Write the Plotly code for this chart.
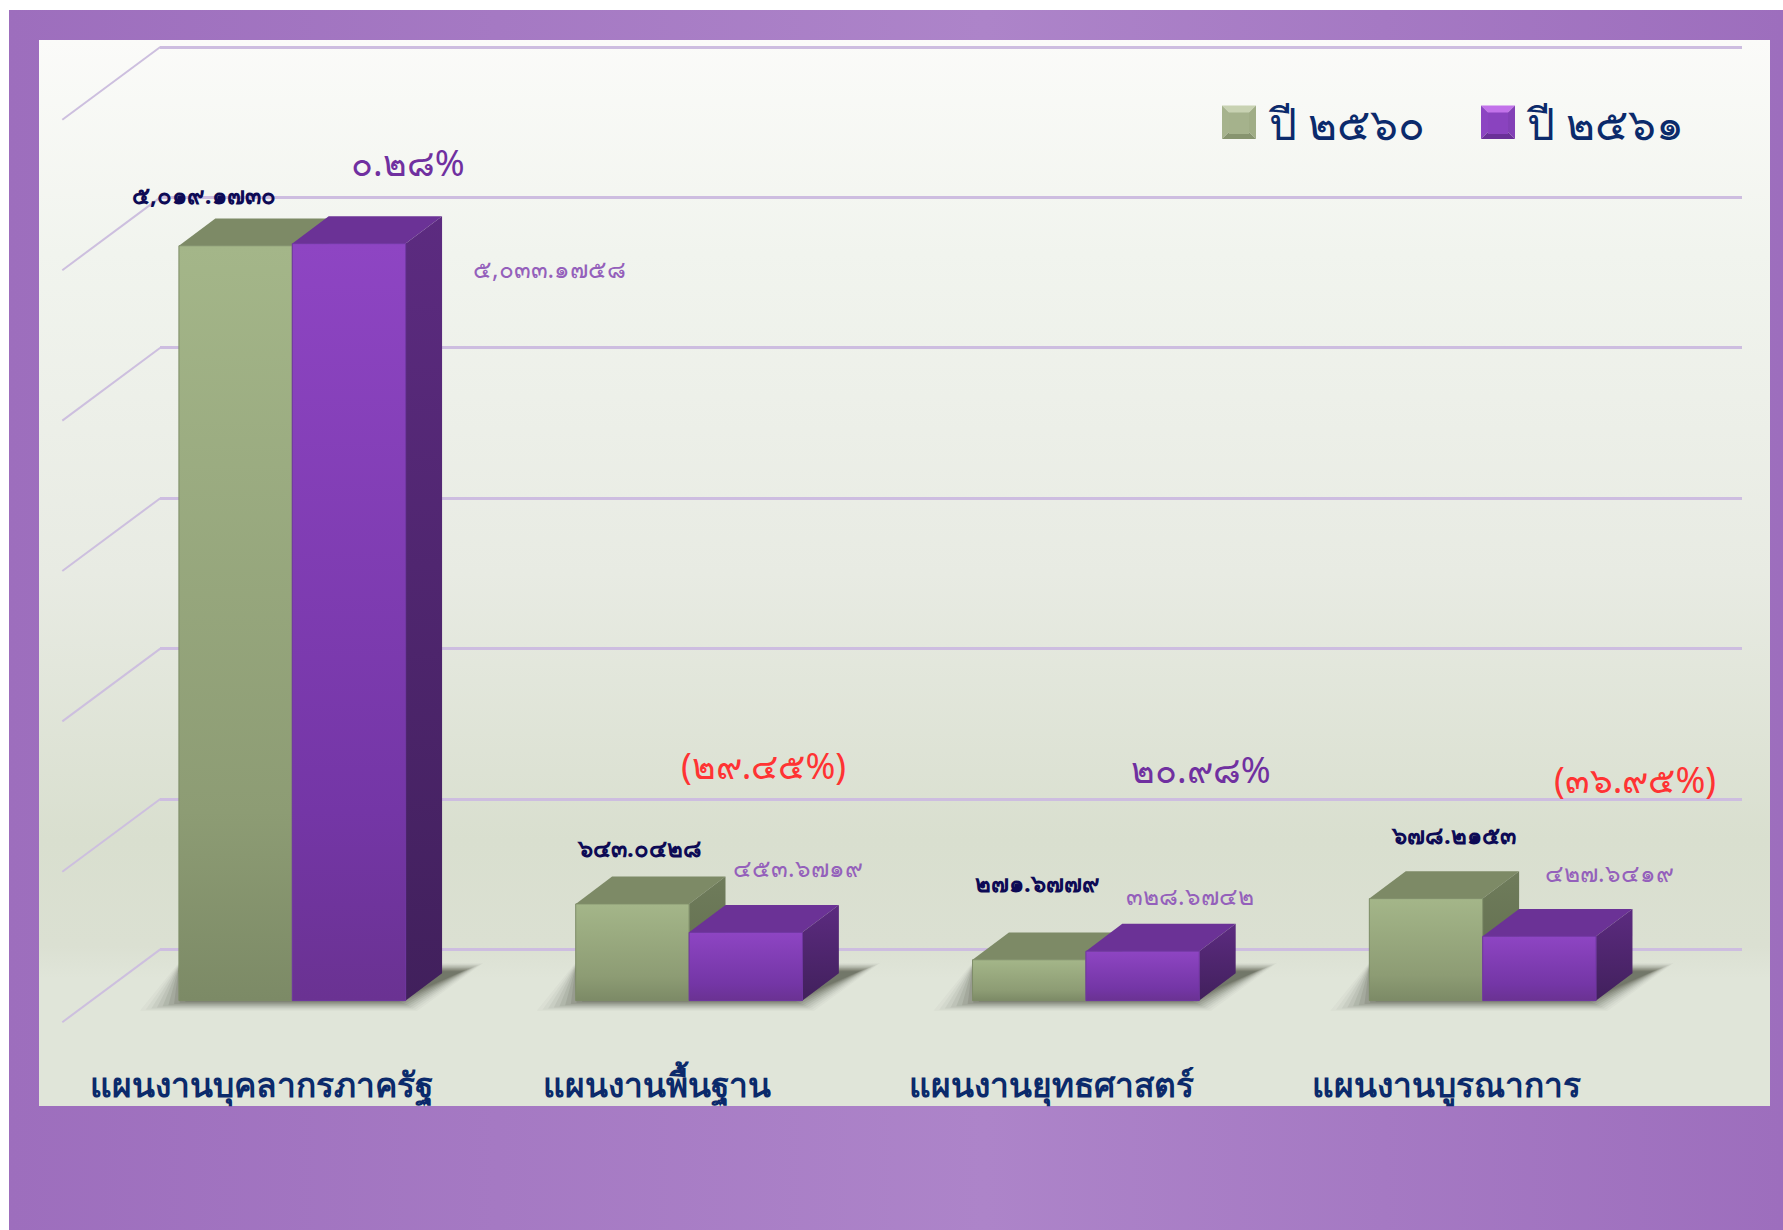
import plotly.graph_objects as go

# ---------- data ----------
categories = ["แผนงานบุคลากรภาครัฐ", "แผนงานพื้นฐาน", "แผนงานยุทธศาสตร์", "แผนงานบูรณาการ"]
series_names = ["ปี ๒๕๖๐", "ปี ๒๕๖๑"]
values_2560 = [5019.1730, 643.0428, 271.6779, 678.2153]
values_2561 = [5033.1758, 453.6719, 328.6742, 427.6419]
labels_2560 = ["๕,๐๑๙.๑๗๓๐", "๖๔๓.๐๔๒๘", "๒๗๑.๖๗๗๙", "๖๗๘.๒๑๕๓"]
labels_2561 = ["๕,๐๓๓.๑๗๕๘", "๔๕๓.๖๗๑๙", "๓๒๘.๖๗๔๒", "๔๒๗.๖๔๑๙"]
change_labels = ["๐.๒๘%", "(๒๙.๔๕%)", "๒๐.๙๘%", "(๓๖.๙๕%)"]
grid_values = [0, 1000, 2000, 3000, 4000, 5000, 6000]

# ---------- geometry (page pixels) ----------
W, H = 1783, 1230
FONT = "Noto Sans, DejaVu Sans, Liberation Sans, sans-serif"
PX_PER_CAT = 396.8
PX_PER_UNIT = 0.1504
CAT0_PX = 292.3
BASE_PX = 1000.6
PLOT_TOP, PLOT_BOTTOM = 40, 1040
DX = 36.4 / PX_PER_CAT
DY = 27.3 / PX_PER_UNIT
WALL_DX = 98 / PX_PER_CAT
WALL_DY = 51.2 / PX_PER_UNIT
BAR_W = 1 / 3.5
FLOOR_DX = 98 / PX_PER_CAT
FLOOR_DY = 72.8 / PX_PER_UNIT
GRID_PAD = 100

x_range = [(0 - CAT0_PX) / PX_PER_CAT, (W - CAT0_PX) / PX_PER_CAT]
y_range = [(BASE_PX - PLOT_BOTTOM) / PX_PER_UNIT, (BASE_PX - PLOT_TOP) / PX_PER_UNIT]
wall_left, wall_right = (160.3 - CAT0_PX) / PX_PER_CAT, (1742 - CAT0_PX) / PX_PER_CAT

fig = go.Figure()


def poly(xs, ys, axes, fill=None, grad=None, line=None):
    kw = dict(x=xs + xs[:1], y=ys + ys[:1], mode="lines", fill="toself", hoverinfo="skip",
              showlegend=False, xaxis=axes[0], yaxis=axes[1], line=dict(width=0, color="rgba(0,0,0,0)"))
    if line:
        kw["line"] = dict(width=1, color=line)
    if fill:
        kw["fillcolor"] = fill
    if grad:
        kw["fillgradient"] = grad
        kw["fillcolor"] = "rgba(0,0,0,0)"
    fig.add_trace(go.Scatter(**kw))


# ---------- page background (pixel axes x / y) ----------
poly([9, W, W, 9], [10, 10, H, H], ("x", "y"), grad=dict(
    type="horizontal",
    colorscale=[[0, "#9d6ebd"], [0.55, "#ad84c9"], [1, "#9d6ebd"]]))
poly([39, 1770, 1770, 39], [40, 40, 1106, 1106], ("x", "y"), grad=dict(
    type="vertical",
    colorscale=[[0, "#e0e5d9"], [0.12, "#e0e5d9"], [0.15, "#dbe0d2"], [0.25, "#d9dfcf"], [0.5, "#e8ebe3"],
                [0.8, "#f1f4ee"], [1, "#fbfbf9"]]))

# ---------- floor/wall diagonals (chart axes x3 / y3) ----------
CH = ("x3", "y3")
for g in grid_values:
    fig.add_trace(go.Scatter(
        x=[wall_left - FLOOR_DX, wall_left], y=[g + WALL_DY - FLOOR_DY, g + WALL_DY],
        mode="lines", line=dict(color="#cdbfdf", width=2), hoverinfo="skip",
        showlegend=False, xaxis="x3", yaxis="y3"))

# ---------- the bars ----------
green_front = dict(type="vertical", colorscale=[[0, "#7c8a66"], [0.25, "#8d9c74"], [1, "#a4b689"]])
purple_front = dict(type="vertical", colorscale=[[0, "#6a3292"], [0.25, "#7436a6"], [1, "#8e45c3"]])
green_side = dict(type="vertical", colorscale=[[0, "#5f6b4c"], [1, "#6f7c5b"]])
purple_side = dict(type="vertical", colorscale=[[0, "#41205c"], [1, "#5c2b80"]])
positions = list(range(len(categories)))
offsets = [-BAR_W / 2, BAR_W / 2]
colors = ["#93a37a", "#7d3cae"]
tops = ["#7d8a66", "#6b3296"]

fig.add_trace(go.Bar(x=positions, y=values_2560, name=series_names[0], marker=dict(color=colors[0], line=dict(width=0)),
                     xaxis="x3", yaxis="y3", offsetgroup="a", showlegend=False))
fig.add_trace(go.Bar(x=positions, y=values_2561, name=series_names[1], marker=dict(color=colors[1], line=dict(width=0)),
                     xaxis="x3", yaxis="y3", offsetgroup="b", showlegend=False))

# soft ground shadows
ux, uy = 1.137 / PX_PER_CAT, 1.137 / PX_PER_UNIT
for i in positions:
    for k in range(10):
        e = 10 - 2 * k
        a = 0.03 + 0.018 * k
        left = -134 + k * 5
        xs = [i + left * ux, i + (100 + e) * ux, i + (158 + e) * ux, i + (-100) * ux]
        ys = [(-4 - e * .5) * uy, (-4 - e * .5) * uy, (29 + e * .4) * uy, (29 + e * .4) * uy]
        poly(xs, ys, CH, fill=f"rgba(70,75,60,{a})")

# extruded faces and gradient fronts, computed from the values
for s, vals in enumerate([values_2560, values_2561]):
    for i, v in zip(positions, vals):
        x0 = i + offsets[s] - BAR_W / 2
        x1 = x0 + BAR_W
        poly([x0, x1, x1 + DX, x0 + DX], [v, v, v + DY, v + DY], CH, fill=tops[s])
        poly([x1, x1 + DX, x1 + DX, x1], [0, DY, v + DY, v], CH, grad=(green_side if s == 0 else purple_side))
for s, vals in enumerate([values_2560, values_2561]):
    for i, v in zip(positions, vals):
        x0 = i + offsets[s] - BAR_W / 2
        x1 = x0 + BAR_W
        poly([x0, x1, x1, x0], [0, 0, v, v], CH, grad=(green_front if s == 0 else purple_front),
             line=("#7f8e69" if s == 0 else "#6f36a0"))

# ---------- value and change labels (offsets in pixels from each bar top) ----------
S = 1.137
off_2560 = [(-28, 45), (6, 50), (7, 68), (24, 56)]
off_2561 = [(176, -22), (46, 57), (42, 49), (62, 56)]
off_change = [(102, 71), (65.5, 122), (101.5, 160), (134, 105)]
change_colors = ["#7030a0", "#ff3333", "#7030a0", "#ff3333"]
ann = []
for i in positions:
    ann.append(dict(x=i + offsets[0], y=values_2560[i], text=labels_2560[i], xref="x3", yref="y3", showarrow=False,
                    xshift=off_2560[i][0] * S, yshift=off_2560[i][1] * S,
                    font=dict(family=FONT, size=24, weight="bold", color="#0d0a55")))
    ann.append(dict(x=i + offsets[1], y=values_2561[i], text=labels_2561[i], xref="x3", yref="y3", showarrow=False,
                    xshift=off_2561[i][0] * S, yshift=off_2561[i][1] * S,
                    font=dict(family=FONT, size=24.5, color="#9460bb")))
    top = max(values_2560[i], values_2561[i])
    ann.append(dict(x=i, y=top, text=change_labels[i], xref="x3", yref="y3", showarrow=False,
                    xshift=off_change[i][0] * S, yshift=off_change[i][1] * S,
                    font=dict(family=FONT, size=36, color=change_colors[i])))

# ---------- legend (bevelled swatches in pixel axes x4 / y4) ----------
TOP = ("x4", "y4")
for (xa, shades) in [(1222, ("#c8d2b2", "#a6b38d", "#a0ad86", "#87946f", "#a5b28c")),
                     (1481, ("#c272ea", "#8c45c2", "#8340b6", "#6a3098", "#8a43bf"))]:
    xb, ya, yb = xa + 34, 105.5, 139
    xm, ym = (xa + xb) / 2, (ya + yb) / 2
    poly([xa, xb, xm], [ya, ya, ym], TOP, fill=shades[0])
    poly([xa, xm, xa], [ya, ym, yb], TOP, fill=shades[1])
    poly([xb, xm, xb], [ya, ym, yb], TOP, fill=shades[2])
    poly([xa, xb, xm], [yb, yb, ym], TOP, fill=shades[3])
    poly([xa + 7, xb - 7, xb - 7, xa + 7], [ya + 7, ya + 7, yb - 5, yb - 5], TOP, fill=shades[4])
for name, xt in zip(series_names, [1266, 1524]):
    ann.append(dict(x=xt, y=123, text=name, xref="x4", yref="y4", xanchor="left", showarrow=False,
                    font=dict(family=FONT, size=44, color="#0b2a6b")))

hidden = dict(visible=False, fixedrange=True)
fig.update_layout(
    width=W, height=H, margin=dict(l=0, r=0, t=0, b=0),
    paper_bgcolor="white", plot_bgcolor="rgba(0,0,0,0)", showlegend=False,
    barmode="group", bargap=1.5 / 3.5, bargroupgap=0, annotations=ann,
    xaxis=dict(range=[0, W], domain=[0, 1], anchor="y", **hidden),
    yaxis=dict(range=[H, 0], domain=[0, 1], anchor="x", **hidden),
    # back wall with its value gridlines
    xaxis2=dict(range=[0, 1], domain=[160.3 / W, 1742 / W], anchor="y2", **hidden),
    yaxis2=dict(range=[-GRID_PAD, 6000 + GRID_PAD],
                domain=[1 - (949.4 + GRID_PAD * PX_PER_UNIT) / H, 1 - (47 - GRID_PAD * PX_PER_UNIT) / H],
                anchor="x2", tickvals=grid_values, tickmode="array",
                showgrid=True, gridcolor="#cdbde0", gridwidth=3, zeroline=False, showline=False,
                showticklabels=False, ticks="", fixedrange=True),
    # bars: value axis has its zero on the front edge of the bars
    xaxis3=dict(range=x_range, domain=[0, 1], anchor="y3", tickmode="array",
                tickvals=[i * 347.4 / 349 - 27 / 349 for i in positions], ticktext=categories,
                tickfont=dict(family=FONT, size=33.5, weight="bold", color="#0b2a6b"), ticks="outside", ticklen=16,
                tickcolor="rgba(0,0,0,0)", showgrid=False, zeroline=False, showline=False, fixedrange=True),
    yaxis3=dict(range=y_range, domain=[1 - PLOT_BOTTOM / H, 1 - PLOT_TOP / H], anchor="x3", visible=False, fixedrange=True),
    xaxis4=dict(range=[0, W], domain=[0, 1], anchor="y4", **hidden),
    yaxis4=dict(range=[H, 0], domain=[0, 1], anchor="x4", **hidden),
)
# make the wall subplot render its grid
fig.add_trace(go.Scatter(x=[0], y=[0], mode="markers", marker=dict(opacity=0), hoverinfo="skip",
                         showlegend=False, xaxis="x2", yaxis="y2"))

fig.write_html("out.html", config={"displayModeBar": False},
               post_script="document.body.style.margin='0';document.documentElement.style.overflow='hidden';")
